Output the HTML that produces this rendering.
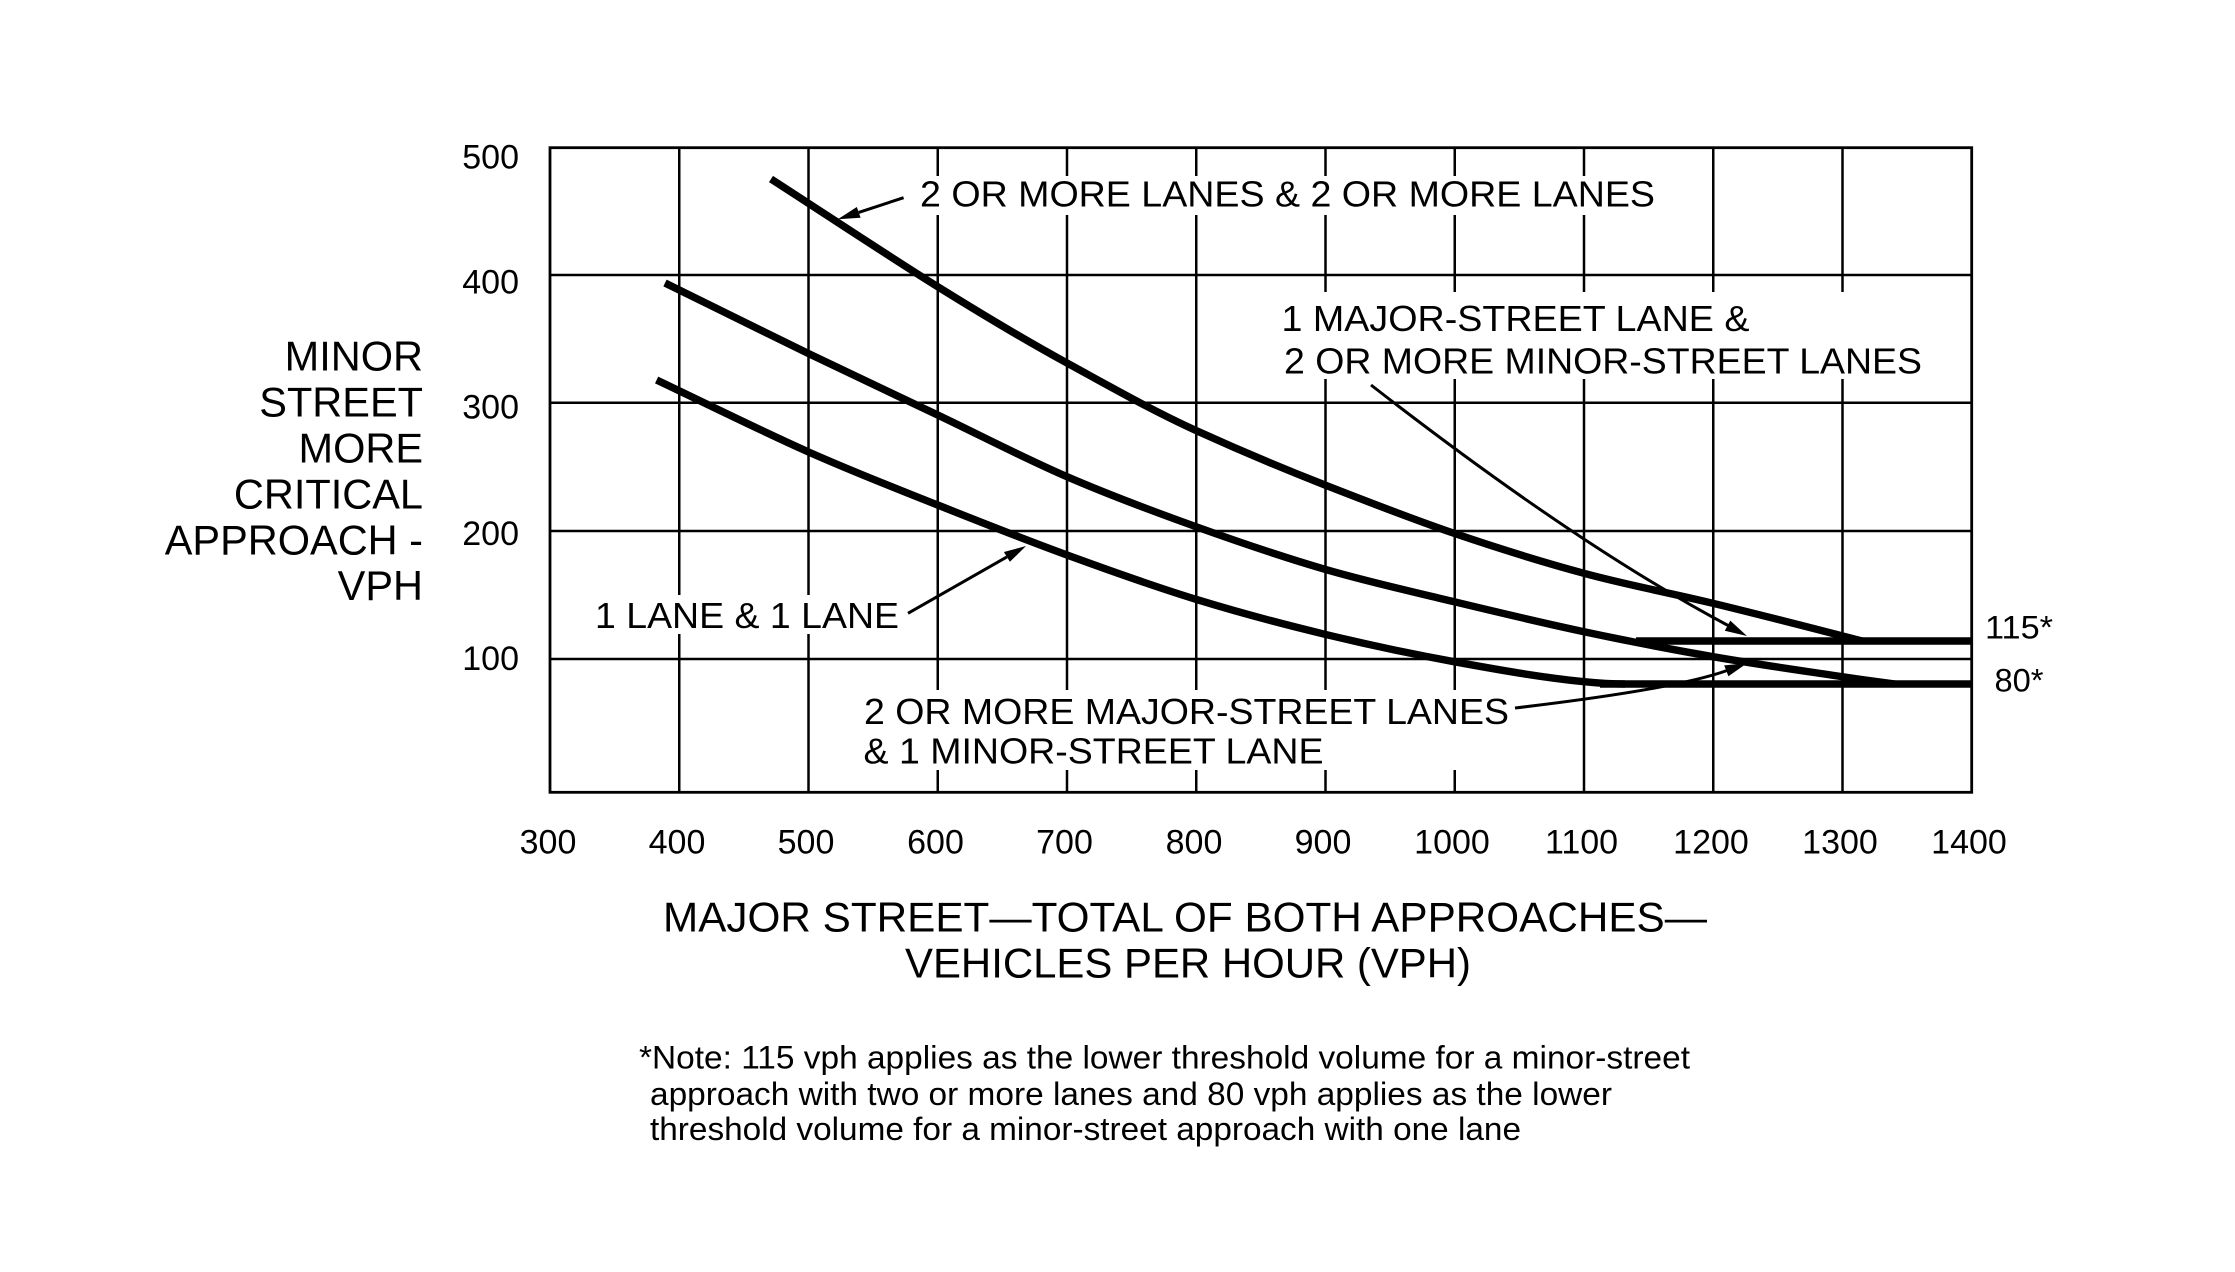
<!DOCTYPE html>
<html>
<head>
<meta charset="utf-8">
<style>
  html, body { margin: 0; padding: 0; background: #ffffff; }
  body { width: 2235px; height: 1272px; overflow: hidden; }
  svg { display: block; }
  text { font-family: "Liberation Sans", Arial, Helvetica, sans-serif; fill: #000; }
</style>
</head>
<body>
<svg width="2235" height="1272" viewBox="0 0 2235 1272" xmlns="http://www.w3.org/2000/svg">
  <rect x="0" y="0" width="2235" height="1272" fill="#ffffff"/>

  <!-- grid -->
  <g stroke="#000" stroke-width="2.5" fill="none">
    <line x1="679.25" y1="147.7" x2="679.25" y2="792.3"/>
    <line x1="808.5" y1="147.7" x2="808.5" y2="792.3"/>
    <line x1="937.75" y1="147.7" x2="937.75" y2="792.3"/>
    <line x1="1067" y1="147.7" x2="1067" y2="792.3"/>
    <line x1="1196.25" y1="147.7" x2="1196.25" y2="792.3"/>
    <line x1="1325.5" y1="147.7" x2="1325.5" y2="792.3"/>
    <line x1="1454.75" y1="147.7" x2="1454.75" y2="792.3"/>
    <line x1="1584" y1="147.7" x2="1584" y2="792.3"/>
    <line x1="1713.25" y1="147.7" x2="1713.25" y2="792.3"/>
    <line x1="1842.5" y1="147.7" x2="1842.5" y2="792.3"/>
    <line x1="550" y1="275" x2="1971.7" y2="275"/>
    <line x1="550" y1="402.8" x2="1971.7" y2="402.8"/>
    <line x1="550" y1="531" x2="1971.7" y2="531"/>
    <line x1="550" y1="659" x2="1971.7" y2="659"/>
  </g>

  <!-- text knockouts -->
  <g fill="#ffffff">
    <rect x="918" y="176" width="739" height="39"/>
    <rect x="1281" y="292" width="643" height="87"/>
    <rect x="593" y="595" width="310" height="39"/>
    <rect x="861" y="690" width="651" height="80"/>
  </g>

  <!-- border -->
  <rect x="550" y="147.7" width="1421.7" height="644.6" fill="none" stroke="#000" stroke-width="2.8"/>

  <!-- curves -->
  <g stroke="#000" stroke-width="7.4" fill="none" stroke-linecap="butt" stroke-linejoin="round">
    <path d="M771,179 C826.6,214.9 888.4,256 937.7,286.7 C987,317.4 1024,339.5 1067,363 C1110,386.5 1152,410.5 1196,430.5 C1240,450.5 1282,468.2 1325,485 C1368,501.8 1410.8,518.6 1454,533.3 C1497.2,548 1540.8,561.6 1584,573.3 C1627.2,585 1667,592.2 1713,603.3 C1759,614.4 1811,627.8 1862,641"/>
    <path d="M665,283 C712.7,306.4 762.55,331.3 808,353.3 C853.45,375.3 894.5,394.4 937.7,415 C980.9,435.6 1024,458.1 1067,476.7 C1110,495.3 1153,511.3 1196,526.7 C1239,542.1 1282,556.8 1325,569.3 C1368,581.8 1410.8,591.3 1454,601.7 C1497.2,612.1 1540.8,622.5 1584,631.7 C1627.2,640.9 1670,649.2 1713,656.7 C1756,664.2 1799,670.2 1842,676.7 C1859,679.3 1876,681.6 1895,684"/>
    <path d="M656.6,380 C707,403.9 761.15,430.9 808,451.7 C854.85,472.5 894.5,487.8 937.7,505 C980.9,522.2 1024,539.3 1067,555 C1110,570.7 1153,586.1 1196,599.3 C1239,612.5 1282,623.9 1325,634.3 C1368,644.7 1410.8,653.8 1454,661.7 C1497.2,669.6 1541,677.4 1584,681.7 C1598,683.1 1612,684 1625,684"/>
    <line x1="1636" y1="641" x2="1971.7" y2="641"/>
    <line x1="1600" y1="684" x2="1971.7" y2="684"/>
  </g>

  <!-- arrows -->
  <g stroke="#000" stroke-width="3" fill="none">
    <line x1="903.6" y1="197.7" x2="858.7" y2="212.4"/>
    <line x1="908" y1="613.3" x2="1006.9" y2="556.9"/>
    <path d="M1371,385 Q1578,546 1729,626"/>
    <path d="M1515,708 Q1676,689 1727,670.5"/>
  </g>
  <g fill="#000">
    <polygon points="837.8,219.3 860.6,217.8 856.8,207"/>
    <polygon points="1026,546 1009.9,561.8 1003.9,552"/>
    <polygon points="1747,636 1724.8,630.8 1730.3,620.6"/>
    <polygon points="1747,663.3 1728.4,676.2 1724.2,665.4"/>
  </g>

  <!-- y tick labels -->
  <g font-size="34" text-anchor="end">
    <text x="519" y="168.5">500</text>
    <text x="519" y="293.5">400</text>
    <text x="519" y="418.3">300</text>
    <text x="519" y="545">200</text>
    <text x="519" y="670">100</text>
  </g>

  <!-- x tick labels -->
  <g font-size="34" text-anchor="middle">
    <text x="548" y="853.3">300</text>
    <text x="677" y="853.3">400</text>
    <text x="806" y="853.3">500</text>
    <text x="935.5" y="853.3">600</text>
    <text x="1064.5" y="853.3">700</text>
    <text x="1194" y="853.3">800</text>
    <text x="1323" y="853.3">900</text>
    <text x="1452" y="853.3">1000</text>
    <text x="1581.5" y="853.3">1100</text>
    <text x="1711" y="853.3">1200</text>
    <text x="1840" y="853.3">1300</text>
    <text x="1969" y="853.3">1400</text>
  </g>

  <!-- y axis title -->
  <g font-size="41.5" text-anchor="end">
    <text x="423" y="370.7">MINOR</text>
    <text x="423" y="416.6">STREET</text>
    <text x="423" y="462.5">MORE</text>
    <text x="423" y="508.4">CRITICAL</text>
    <text x="423" y="554.3">APPROACH -</text>
    <text x="423" y="600.2">VPH</text>
  </g>

  <!-- threshold labels -->
  <g font-size="32">
    <text x="1985" y="638.5" textLength="68" lengthAdjust="spacingAndGlyphs">115*</text>
    <text x="1994.5" y="691.7" textLength="49" lengthAdjust="spacingAndGlyphs">80*</text>
  </g>

  <!-- curve labels -->
  <g font-size="36">
    <text x="920" y="206.7" textLength="735" lengthAdjust="spacingAndGlyphs">2 OR MORE LANES &amp; 2 OR MORE LANES</text>
    <text x="1281.5" y="331" textLength="468" lengthAdjust="spacingAndGlyphs">1 MAJOR-STREET LANE &amp;</text>
    <text x="1284" y="373.3" textLength="638" lengthAdjust="spacingAndGlyphs">2 OR MORE MINOR-STREET LANES</text>
    <text x="595" y="628" textLength="304" lengthAdjust="spacingAndGlyphs">1 LANE &amp; 1 LANE</text>
    <text x="864" y="724" textLength="645" lengthAdjust="spacingAndGlyphs">2 OR MORE MAJOR-STREET LANES</text>
    <text x="863.5" y="763.3" textLength="460" lengthAdjust="spacingAndGlyphs">&amp; 1 MINOR-STREET LANE</text>
  </g>

  <!-- x axis title -->
  <g font-size="42">
    <text x="663" y="931.7" textLength="1044" lengthAdjust="spacingAndGlyphs">MAJOR STREET—TOTAL OF BOTH APPROACHES—</text>
    <text x="905" y="977.3" textLength="566" lengthAdjust="spacingAndGlyphs">VEHICLES PER HOUR (VPH)</text>
  </g>

  <!-- note -->
  <g font-size="32.5">
    <text x="639" y="1068.3" textLength="1051" lengthAdjust="spacingAndGlyphs">*Note: 115 vph applies as the lower threshold volume for a minor-street</text>
    <text x="650" y="1105" textLength="962" lengthAdjust="spacingAndGlyphs">approach with two or more lanes and 80 vph applies as the lower</text>
    <text x="650" y="1140" textLength="871" lengthAdjust="spacingAndGlyphs">threshold volume for a minor-street approach with one lane</text>
  </g>
</svg>
</body>
</html>
